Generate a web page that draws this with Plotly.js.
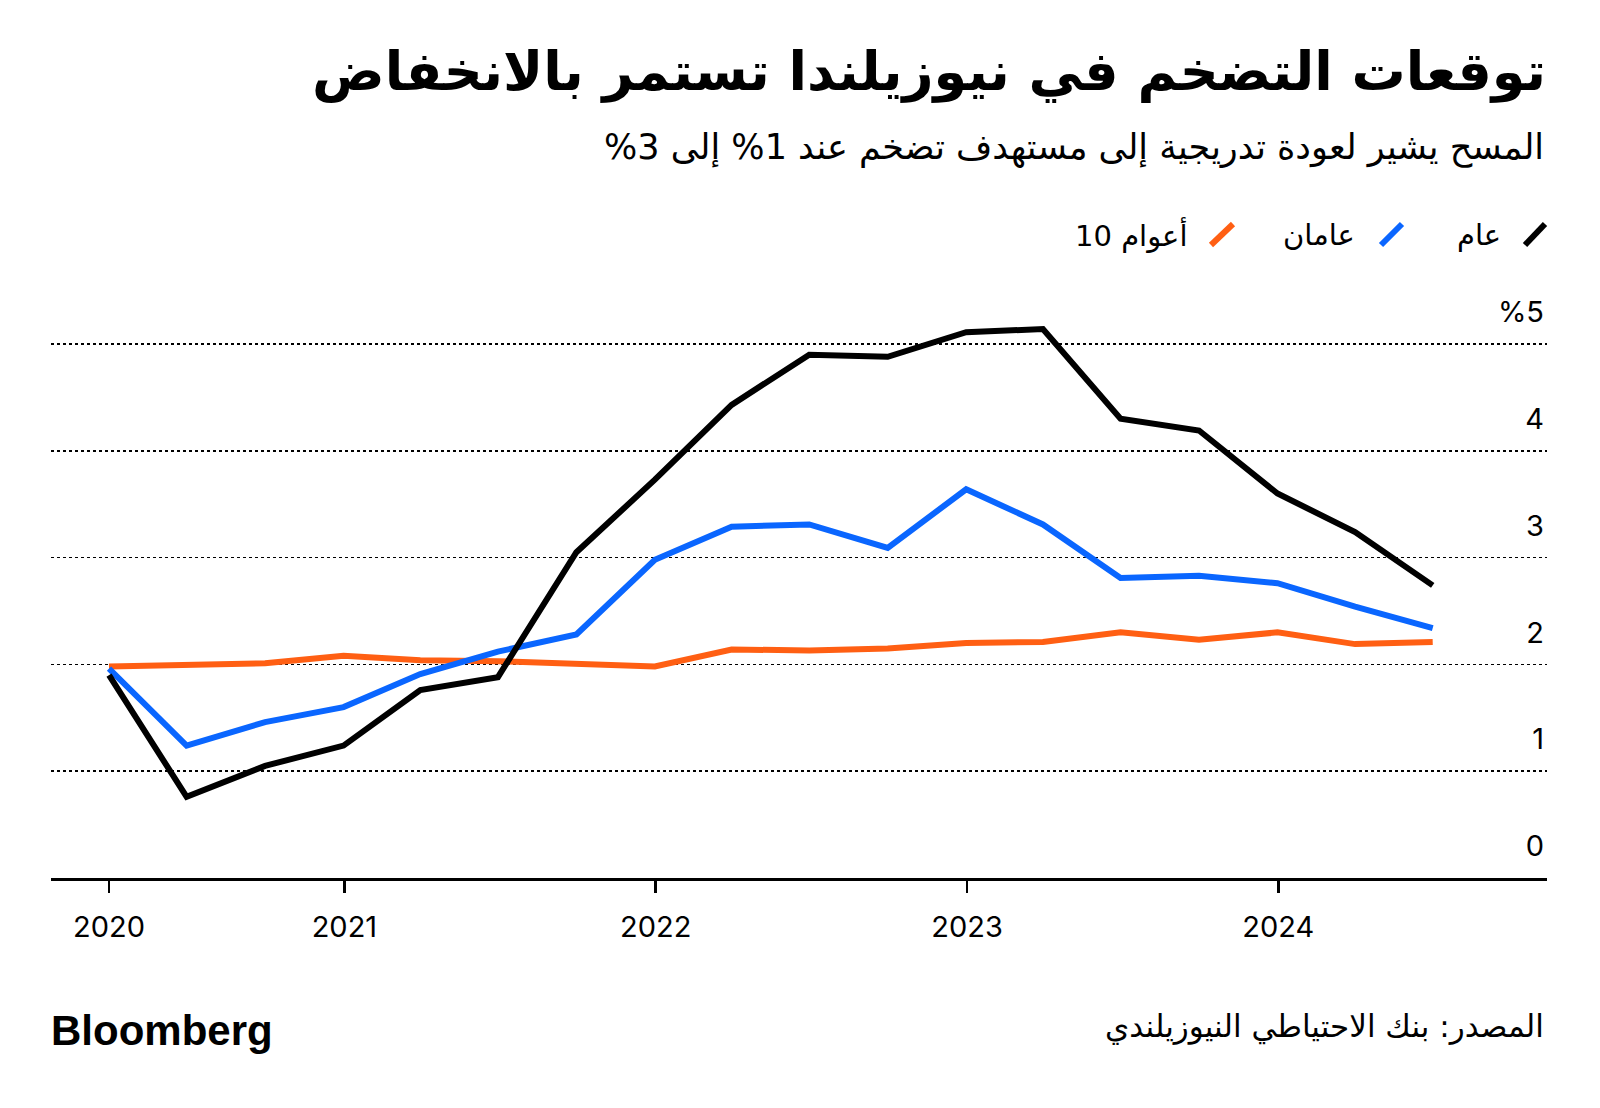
<!DOCTYPE html>
<html>
<head>
<meta charset="utf-8">
<script src="https://cdn.plot.ly/plotly-3.0.1.min.js"></script>
<style>html,body{margin:0;padding:0;background:#fff;}#chart{width:1600px;height:1108px;}</style>
</head>
<body>
<div id="chart"></div>
<script>
// ---- DATA ----
const quarters = ['2020-03-31','2020-06-30','2020-09-30','2020-12-31',
  '2021-03-31','2021-06-30','2021-09-30','2021-12-31',
  '2022-03-31','2022-06-30','2022-09-30','2022-12-31',
  '2023-03-31','2023-06-30','2023-09-30','2023-12-31',
  '2024-03-31','2024-06-30'];
const oneYear  = [1.90,0.76,1.05,1.24,1.76,1.88,3.05,3.73,4.43,4.90,4.88,5.11,5.14,4.30,4.19,3.60,3.24,2.74];
const twoYear  = [1.96,1.24,1.46,1.60,1.91,2.12,2.28,2.98,3.29,3.31,3.09,3.64,3.31,2.81,2.83,2.76,2.54,2.34];
const tenYear  = [1.98,2.00,2.01,2.08,2.04,2.03,2.00,1.98,2.14,2.13,2.15,2.20,2.21,2.30,2.23,2.30,2.19,2.21];
const seriesNames  = ['عام','عامان','10 أعوام'];
const seriesColors = ['#000000','#0a66ff','#ff5f13'];
const xTickVals  = ['2020-03-31','2021-01-01','2022-01-01','2023-01-01','2024-01-01'];
const xTickText  = ['2020','2021','2022','2023','2024'];
const yTickVals  = [0,1,2,3,4,5];
const yTickText  = ['0','1','2','3','4','%5'];
const titleText    = 'توقعات التضخم في نيوزيلندا تستمر بالانخفاض';
const subtitleText = 'المسح يشير لعودة تدريجية إلى مستهدف تضخم عند 1% إلى 3%';
const sourceText   = 'المصدر: بنك الاحتياطي النيوزيلندي';

// ---- LAYOUT GEOMETRY ----
const W = 1600, H = 1108;
const M = {l:51, r:53, t:280, b:230};
const PW = W - M.l - M.r, PH = H - M.t - M.b;
const px = x => (x - M.l) / PW;         // pixel x -> paper
const py = y => (H - M.b - y) / PH;     // pixel y -> paper
const RTL = s => '\u202B' + s + '\u202C';

const AR = '"DejaVu Sans", "Noto Sans", sans-serif';
const NUM = 'Inter, "Liberation Sans", sans-serif';

const series = [oneYear, twoYear, tenYear];
const traces = series.map((vals, i) => ({
  x: quarters, y: vals, type: 'scatter', mode: 'lines',
  name: seriesNames[i],
  line: {color: seriesColors[i], width: 6, shape: 'linear'},
  hoverinfo: 'skip'
})).reverse();

// legend built from the series arrays (right-to-left)
const legendStroke = [[1525,1545],[1381,1402],[1211,1233]];
const legendTextRight = [1503,1357,1189];
const shapes = [];
const annotations = [];
seriesNames.forEach((n, i) => {
  shapes.push({type:'line', xref:'paper', yref:'paper',
    x0: px(legendStroke[i][0]), y0: py(245), x1: px(legendStroke[i][1]), y1: py(224),
    line:{color: seriesColors[i], width: 6}});
  annotations.push({text: n, xref:'paper', yref:'paper', x: px(legendTextRight[i]), y: py(235),
    xanchor:'right', yanchor:'middle', showarrow:false,
    font:{family: '"DejaVu Sans", Inter, sans-serif', size: 29, color:'#000'}});
});
annotations.push({text: RTL(subtitleText), xref:'paper', yref:'paper', x: px(1546), y: py(148),
  xanchor:'right', yanchor:'middle', showarrow:false, font:{family: AR, size: 35, color:'#000'}});
annotations.push({text: RTL(sourceText), xref:'paper', yref:'paper', x: px(1546), y: py(1026),
  xanchor:'right', yanchor:'middle', showarrow:false, font:{family: AR, size: 31, color:'#000'}});
annotations.push({text: '<b>Bloomberg</b>', xref:'paper', yref:'paper', x: px(49), y: py(1030),
  xanchor:'left', yanchor:'middle', showarrow:false, font:{family: '"Liberation Sans", Arial, sans-serif', size: 42, color:'#000'}});

const layout = {
  width: W, height: H,
  margin: M,
  paper_bgcolor: '#fff', plot_bgcolor: '#fff',
  showlegend: false,
  title: {text: '<b>' + RTL(titleText) + '</b>', x: 1546 / W, xanchor: 'right', xref: 'container',
    y: 1 - 71 / H, yanchor: 'middle', yref: 'container',
    font: {family: AR, size: 54, color: '#000'}},
  xaxis: {
    type: 'date', range: ['2020-01-23', '2024-11-11'],
    tickmode: 'array', tickvals: xTickVals, ticktext: xTickText,
    showgrid: false, zeroline: false,
    showline: true, linecolor: '#000', linewidth: 3,
    ticks: 'outside', ticklen: 12, tickwidth: 2.5, tickcolor: '#000',
    ticklabelstandoff: 9,
    tickfont: {family: NUM, size: 29, color: '#000'}
  },
  yaxis: {
    range: [0, PH / 106.8], side: 'right',
    tickmode: 'array', tickvals: yTickVals, ticktext: yTickText,
    showgrid: true, gridcolor: '#000', gridwidth: 1.5, griddash: 'dot',
    zeroline: false, showline: false, ticks: '',
    ticklabelposition: 'inside', ticklabelshift: -32, ticklabelstandoff: 0,
    tickfont: {family: NUM, size: 29, color: '#000'}
  },
  shapes: shapes,
  annotations: annotations
};

Plotly.newPlot('chart', traces, layout, {displayModeBar: false, staticPlot: true});
</script>
</body>
</html>
